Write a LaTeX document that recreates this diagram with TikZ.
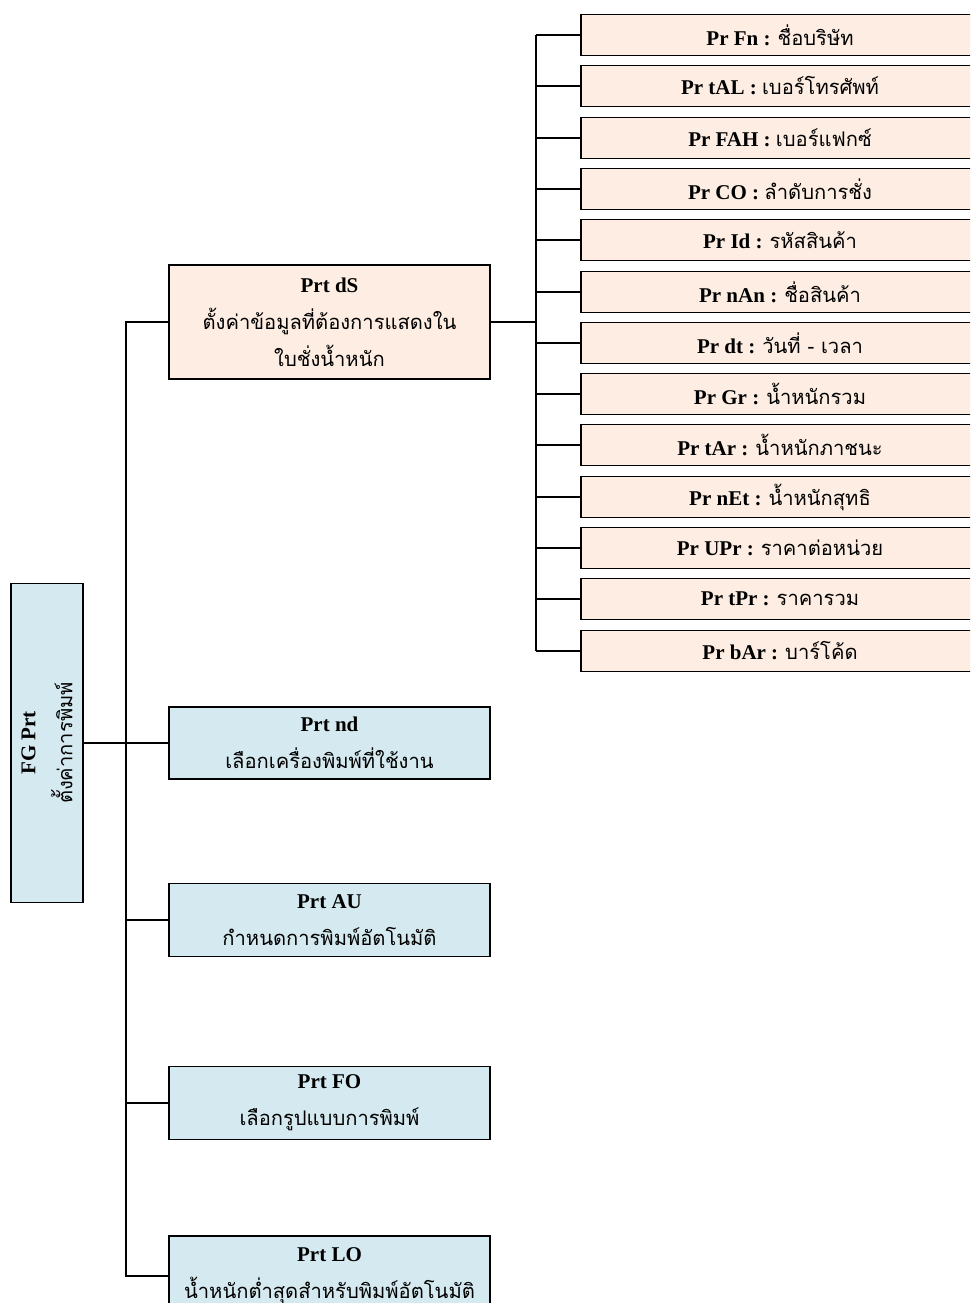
\documentclass[tikz,border=0pt]{standalone}
\usepackage{fontspec}
\setmainfont{Liberation Serif}
\newfontfamily\thaifont[Script=Thai,Scale=0.96]{Loma}
\usetikzlibrary{positioning}
\definecolor{peach}{RGB}{253,237,226}
\definecolor{paleblue}{RGB}{213,234,240}
\newcommand{\thaitxt}[1]{{\thaifont #1}}
\newcommand{\keytxt}[1]{\textbf{#1}}

\begin{document}
\begin{tikzpicture}[x=1pt, y=-1pt, line width=1.5pt,
  every node/.style={font=\fontsize{21}{37}\selectfont, align=center, inner sep=0pt},
  bluebox/.style={draw=black, fill=paleblue, minimum width=321pt},
  peachbox/.style={draw=black, fill=peach, minimum width=321pt},
  itembox/.style={draw=black, fill=peach, minimum width=398pt, minimum height=41pt}]
\useasboundingbox (0,0) rectangle (970,1303);
\clip (0,0) rectangle (970,1303);

% root
\node[bluebox, rotate=90, minimum width=319pt, minimum height=72pt] (root) at (47,743)
  {\keytxt{FG Prt}\\\thaitxt{ตั้งค่าการพิมพ์}};

% second level
\node[peachbox, minimum height=114pt] (dS) at (329.5,322)
  {\keytxt{Prt dS}\\\thaitxt{ตั้งค่าข้อมูลที่ต้องการแสดงใน}\\\thaitxt{ใบชั่งน้ำหนัก}};
\node[bluebox, minimum height=72pt] (nd) at (329.5,743)
  {\keytxt{Prt nd}\\\thaitxt{เลือกเครื่องพิมพ์ที่ใช้งาน}};
\node[bluebox, minimum height=73pt] (AU) at (329.5,920)
  {\keytxt{Prt AU}\\\thaitxt{กำหนดการพิมพ์อัตโนมัติ}};
\node[bluebox, minimum height=73pt] (FO) at (329.5,1103)
  {\keytxt{Prt FO}\\\thaitxt{เลือกรูปแบบการพิมพ์}};
\node[bluebox, minimum height=80pt] (LO) at (329.5,1276)
  {\keytxt{Prt LO}\\\thaitxt{น้ำหนักต่ำสุดสำหรับพิมพ์อัตโนมัติ}};

% print fields
\foreach \i/\key/\txt in {1/Fn/ชื่อบริษัท, 2/tAL/เบอร์โทรศัพท์, 3/FAH/เบอร์แฟกซ์,
    4/CO/ลำดับการชั่ง, 5/Id/รหัสสินค้า, 6/nAn/ชื่อสินค้า, 7/dt/วันที่ - เวลา,
    8/Gr/น้ำหนักรวม, 9/tAr/น้ำหนักภาชนะ, 10/nEt/น้ำหนักสุทธิ,
    11/UPr/ราคาต่อหน่วย, 12/tPr/ราคารวม, 13/bAr/บาร์โค้ด}
  \node[itembox] (pr\i) at (780,{35+round(51.3*(\i-1))}) {\keytxt{Pr \key{} :} \thaitxt{\txt}};

% connectors
\coordinate (spine) at (126,0);
\coordinate (bus) at (536,0);
\draw (root) -- (nd);
\draw (dS.west) -- (dS.west -| spine) -- (LO.west -| spine) -- (LO.west);
\foreach \n in {AU,FO}
  \draw (\n.west) -- (\n.west -| spine);
\draw (dS.east) -- (dS.east -| bus);
\draw (pr1.west -| bus) -- (pr13.west -| bus);
\foreach \i in {1,...,13}
  \draw (pr\i.west) -- (pr\i.west -| bus);
\end{tikzpicture}
\end{document}
